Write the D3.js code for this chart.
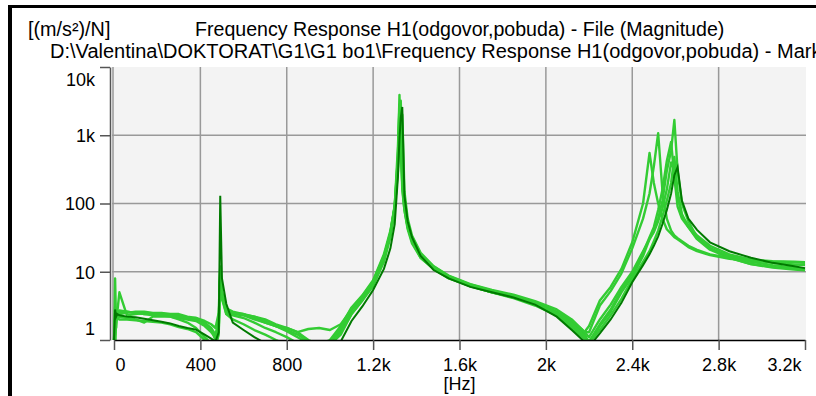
<!DOCTYPE html>
<html>
<head>
<meta charset="utf-8">
<script src="https://cdn.jsdelivr.net/npm/d3@7"></script>
<style>
  body { margin: 0; background: #fff; }
  svg { display: block; font-family: "Liberation Sans", Arial, sans-serif; }
</style>
</head>
<body>
<svg id="chart" width="816" height="396"></svg>
<script>
// frequency grid [Hz]
const freq = [
  0, 5, 10, 15, 25,
  60, 100, 140, 180, 220,
  260, 300, 340, 380, 420,
  450, 470, 485, 492, 500,
  520, 550, 600, 650, 700,
  750, 800, 850, 900, 950,
  1000, 1050, 1100, 1150, 1200,
  1250, 1280, 1300, 1315, 1322,
  1328, 1335, 1345, 1360, 1380,
  1420, 1480, 1550, 1650, 1750,
  1850, 1950, 2050, 2120, 2170,
  2200, 2250, 2300, 2350, 2400,
  2450, 2480, 2500, 2520, 2540,
  2560, 2580, 2595, 2610, 2630,
  2660, 2700, 2760, 2850, 2950,
  3050, 3150, 3200
];

// magnitudes [(m/s²)/N], light green measurements
const meas1 = [
  0.5, 8, 1.5, 2.6, 2.5,
  2.6, 2.5, 2.4, 2.45, 2.3,
  2.2, 2.1, 2.0, 1.9, 1.6,
  1.3, 1.1, 2, 9, 5,
  2.6, 2.4, 2.3, 2.0, 1.8,
  1.6, 1.35, 1.1, 0.9, 0.8,
  0.9, 1.4, 2.7, 4.2, 7.0,
  16, 38, 95, 500, 3900,
  600, 200, 90, 45, 28,
  17, 11.5, 8.3, 6.3, 5.2,
  4.4, 3.5, 2.5, 1.6, 1.2,
  1.6, 3.8, 6, 11, 27,
  100, 550, 200, 100, 60,
  42, 36, 32, 30, 27,
  23, 20, 17.5, 15.5, 14.5,
  14, 13.7, 13.5
];
const meas2 = [
  1.0, 0.6, 2.2, 2.5, 5,
  2.3, 2.4, 2.5, 2.4, 2.35,
  2.3, 2.25, 2.1, 2.0, 1.8,
  1.5, 1.2, 1.8, 11, 4,
  2.8, 2.5, 2.35, 2.2, 2.0,
  1.7, 1.5, 1.3, 1.0, 0.85,
  1.0, 1.6, 3.0, 4.5, 7.5,
  18, 40, 90, 450, 2500,
  900, 160, 80, 42, 26,
  16, 11, 8, 6.2, 5.0,
  4.3, 3.4, 2.4, 1.8, 1.3,
  1.3, 3.2, 5.2, 9.5, 22,
  60, 140, 350, 1070, 150,
  60, 40, 34, 31, 28,
  24, 21, 18, 16, 15,
  14.3, 14, 13.8
];
const meas3 = [
  1.0, 1.2, 2.0, 2.1, 2.2,
  2.1, 2.0, 1.8, 2.2, 2.2,
  2.2, 2.0, 1.8, 1.5, 1.1,
  0.9, 0.8, 1.4, 8, 4.5,
  2.4, 2.3, 2.1, 1.8, 1.5,
  1.3, 1.1, 0.9, 0.8, 0.8,
  0.85, 1.2, 2.4, 3.8, 6.5,
  15, 35, 85, 300, 1500,
  3200, 400, 110, 50, 30,
  18, 12, 8.6, 6.5, 5.3,
  4.5, 3.6, 2.6, 1.9, 1.4,
  0.9, 1.6, 2.6, 5, 8.5,
  17, 30, 40, 60, 110,
  300, 600, 1670, 300, 100,
  55, 32, 22, 16, 13,
  11.8, 11, 10.6
];
const meas4 = [
  1.0, 3, 2.0, 2.3, 2.4,
  2.5, 2.6, 2.6, 2.5, 2.5,
  2.4, 2.4, 2.2, 2.1, 1.9,
  1.7, 1.5, 2.5, 12, 5,
  2.9, 2.6, 2.4, 2.1, 1.8,
  1.6, 1.5, 1.3, 1.45, 1.5,
  1.4, 1.7, 2.8, 4.3, 7.0,
  17, 37, 90, 700, 2800,
  1200, 250, 95, 47, 29,
  17.5, 11.5, 8.2, 6.2, 5.0,
  4.2, 3.4, 2.5, 1.7, 1.2,
  0.95, 1.7, 2.8, 5.4, 9.5,
  19, 32, 45, 80, 160,
  420, 800, 240, 90, 60,
  45, 30, 21, 16, 13,
  11.5, 10.8, 10.5
];
const meas5 = [
  1.0, 2.0, 2.3, 2.1, 2.0,
  2.0, 1.95, 1.9, 1.85, 1.8,
  1.7, 1.55, 1.45, 1.3, 1.0,
  0.85, 0.8, 1.2, 10, 4,
  2.4, 2.0, 1.7, 1.4, 1.2,
  1.0, 0.85, 0.75, 0.7, 0.7,
  0.8, 1.3, 2.4, 3.8, 6.2,
  14, 32, 80, 350, 2000,
  2200, 180, 80, 45, 28,
  16, 11, 8.1, 6.1, 5.0,
  4.1, 3.2, 2.3, 1.5, 1.1,
  0.9, 1.4, 2.3, 4.0, 7.8,
  14, 20, 28, 40, 65,
  110, 200, 480, 150, 70,
  45, 31, 22, 17, 14,
  12.5, 11.5, 11
];
const meas6 = [
  1.0, 1.5, 2.5, 2.6, 2.7,
  2.6, 2.5, 2.4, 2.3, 2.3,
  2.3, 2.2, 2.1, 2.1, 1.7,
  1.4, 1.0, 1.5, 9, 5,
  2.7, 2.5, 2.4, 2.2, 1.9,
  1.6, 1.4, 1.2, 0.95, 0.85,
  0.95, 1.5, 2.9, 4.4, 7.2,
  17, 36, 88, 400, 1200,
  1400, 2000, 150, 60, 34,
  19, 12, 8.8, 6.6, 5.4,
  4.6, 3.7, 2.8, 2.0, 1.4,
  1.1, 2.0, 3.3, 6, 10,
  20, 30, 38, 55, 85,
  160, 400, 300, 130, 65,
  48, 34, 24, 18, 15,
  13.5, 12.8, 12.5
];
// dark green measurement
const measDark = [
  1.0, 2.8, 2.2, 2.4, 2.3,
  2.2, 2.15, 2.05, 1.95, 1.85,
  1.75, 1.6, 1.5, 1.42, 1.2,
  1.05, 0.95, 1.3, 130, 8,
  3.4, 1.8, 1.4, 1.1, 0.9,
  0.75, 0.6, 0.5, 0.45, 0.5,
  0.6, 0.95, 1.9, 3.1, 5.4,
  11, 22, 50, 250, 900,
  1800, 2600, 130, 55, 32,
  17, 10.6, 8, 6, 5,
  4.2, 3.3, 2.2, 1.4, 1.0,
  0.8, 1.25, 2.0, 3.5, 7.0,
  12.5, 18, 24, 33, 50,
  80, 140, 260, 340, 110,
  60, 41, 27, 20, 16,
  13.5, 12, 11.3
];

const lightSeries = [meas1, meas2, meas3, meas4, meas5, meas6];

const xTicks = [0, 400, 800, 1200, 1600, 2000, 2400, 2800, 3200];
const xTickLabels = ["0", "400", "800", "1.2k", "1.6k", "2k", "2.4k", "2.8k", "3.2k"];
const yTicks = [1, 10, 100, 1000, 10000];
const yTickLabels = ["1", "10", "100", "1k", "10k"];

const svg = d3.select("#chart");

const plot = { left: 112, right: 806, top: 67, bottom: 340 };

const x = d3.scaleLinear().domain([0, 3200]).range([114, 805]);
const y = d3.scaleLog().domain([1, 10000]).range([plot.bottom, plot.top]);

// outer frame
svg.append("line")
  .attr("x1", 10).attr("x2", 10).attr("y1", 5).attr("y2", 396)
  .attr("stroke", "#000").attr("stroke-width", 4);
svg.append("line")
  .attr("x1", 8).attr("x2", 816).attr("y1", 6.5).attr("y2", 6.5)
  .attr("stroke", "#000").attr("stroke-width", 3);

// titles
svg.append("text").attr("x", 28).attr("y", 36)
  .attr("font-size", 19.8).text("[(m/s²)/N]");
svg.append("text").attr("x", 195).attr("y", 36)
  .attr("font-size", 19.6).text("Frequency Response H1(odgovor,pobuda) - File (Magnitude)");
svg.append("text").attr("x", 50).attr("y", 58)
  .attr("font-size", 20).text("D:\\Valentina\\DOKTORAT\\G1\\G1 bo1\\Frequency Response H1(odgovor,pobuda) - Mark");

// plot background
svg.append("rect")
  .attr("x", plot.left).attr("y", plot.top)
  .attr("width", plot.right - plot.left).attr("height", plot.bottom - plot.top)
  .attr("fill", "#f3f3f3");

// grid
const grid = svg.append("g").attr("stroke", "#999").attr("stroke-width", 1.5);
grid.selectAll("line.v")
  .data(xTicks.slice(0, -1))
  .join("line")
  .attr("class", "v")
  .attr("x1", d => d === 0 ? plot.left + 1 : x(d)).attr("x2", d => d === 0 ? plot.left + 1 : x(d))
  .attr("y1", plot.top).attr("y2", plot.bottom);
grid.selectAll("line.h")
  .data(yTicks.slice(1, -1))
  .join("line")
  .attr("class", "h")
  .attr("x1", plot.left).attr("x2", plot.right)
  .attr("y1", d => y(d)).attr("y2", d => y(d));

// curves
svg.append("clipPath").attr("id", "clip")
  .append("rect")
  .attr("x", plot.left).attr("y", plot.top)
  .attr("width", plot.right - plot.left).attr("height", plot.bottom - plot.top);

const line = d3.line()
  .x((d, i) => x(freq[i]))
  .y(d => y(d));

const curves = svg.append("g").attr("clip-path", "url(#clip)");
curves.selectAll("path.light")
  .data(lightSeries)
  .join("path")
  .attr("class", "light")
  .attr("fill", "none")
  .attr("stroke", "#33cc33")
  .attr("stroke-width", 2.4)
  .attr("stroke-linejoin", "round")
  .attr("d", line);
curves.append("path")
  .datum(measDark)
  .attr("fill", "none")
  .attr("stroke", "#007a00")
  .attr("stroke-width", 2)
  .attr("d", line);

// y axis
const yAxis = svg.append("g")
  .attr("transform", "translate(110,0)")
  .call(d3.axisLeft(y).tickValues(yTicks).tickFormat((d, i) => yTickLabels[i]).tickSize(10).tickSizeOuter(0));
yAxis.select(".domain").attr("stroke", "#555").attr("stroke-width", 1.5);
yAxis.selectAll(".tick line").attr("stroke", "#555").attr("stroke-width", 1.5);
yAxis.selectAll("text").attr("font-size", 18).attr("font-family", "Liberation Sans, Arial, sans-serif")
  .attr("fill", "#000").attr("x", -15)
  .attr("dy", d => d === 10000 ? "1.05em" : d === 1 ? "-0.3em" : "0.36em");

// x axis
const xAxis = svg.append("g")
  .attr("transform", `translate(0,${plot.bottom})`)
  .call(d3.axisBottom(x).tickValues(xTicks).tickFormat((d, i) => xTickLabels[i]).tickSize(10).tickSizeOuter(0));
xAxis.select(".domain").attr("stroke", "#000").attr("stroke-width", 1.5);
xAxis.selectAll(".tick line").attr("stroke", "#555").attr("stroke-width", 1.5);
xAxis.selectAll("text").attr("font-size", 18).attr("font-family", "Liberation Sans, Arial, sans-serif")
  .attr("fill", "#000").attr("y", 18).attr("dy", "0.71em")
  .attr("text-anchor", d => d === 0 ? "start" : d === 3200 ? "end" : "middle")
  .attr("x", d => d === 0 ? 1 : d === 3200 ? -4 : 0);

svg.append("text").attr("x", x(1600)).attr("y", 390)
  .attr("text-anchor", "middle").attr("font-size", 18).text("[Hz]");
</script>
</body>
</html>
